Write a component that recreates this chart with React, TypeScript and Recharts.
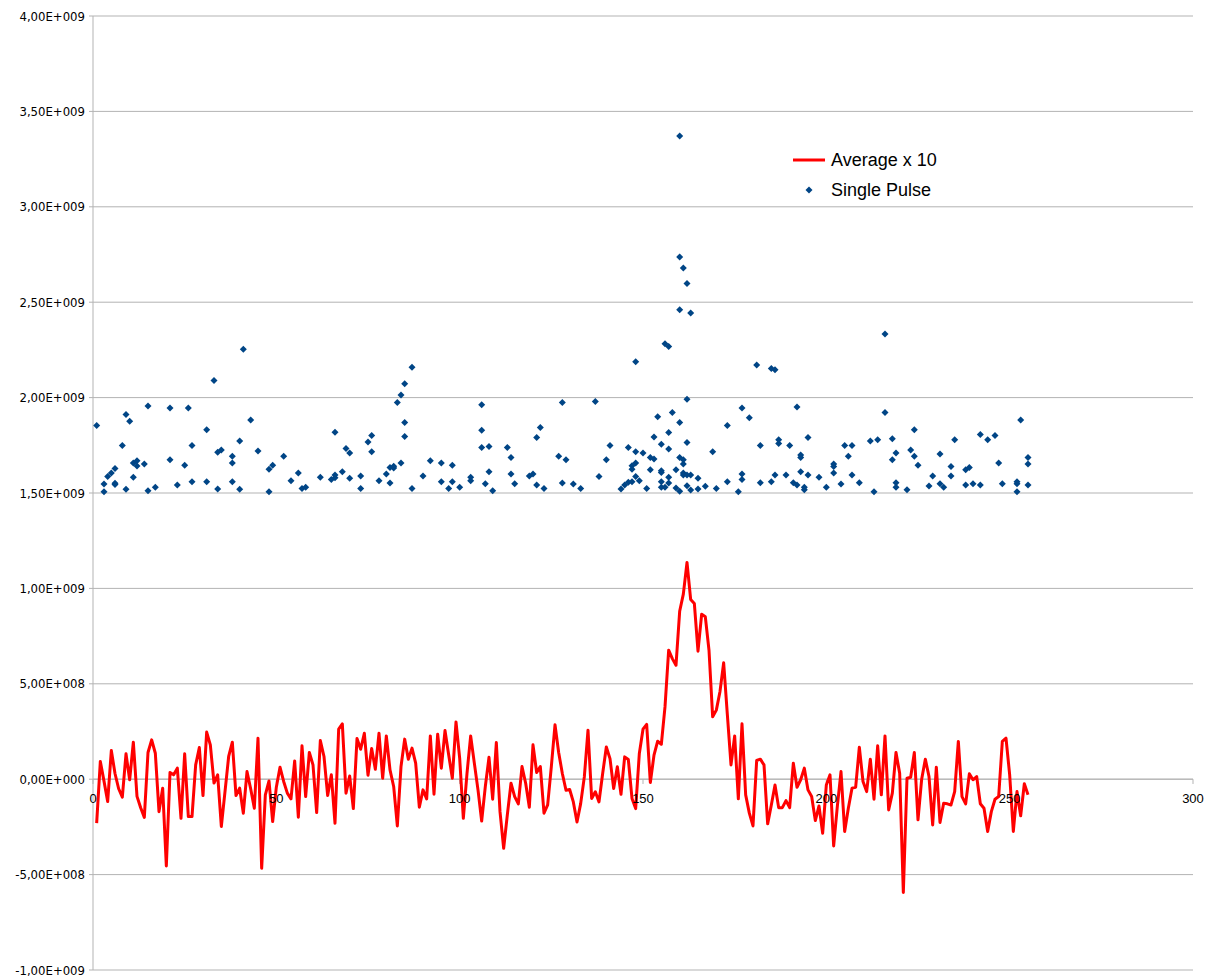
import React from 'react';
import {
  ComposedChart,
  Line,
  Scatter,
  XAxis,
  YAxis,
  CartesianGrid,
  ReferenceLine,
  ReferenceDot,
} from 'recharts';

// ---- Data ----
// "Average x 10" series, x = 1..255, values in units of 1e8
const AVG_UNIT = 1e8;
const avgValues: number[] = [
  -2.3, 0.93, -0.1, -1.17, 1.5, 0.3, -0.5, -0.94, 1.33, -0.03,
  1.94, -0.9, -1.5, -2.0, 1.4, 2.06, 1.36, -1.7, -0.47, -4.55,
  0.35, 0.23, 0.58, -2.05, 1.33, -1.96, -1.96, 0.75, 1.66, -0.86,
  2.47, 1.8, -0.2, 0.23, -2.48, -0.65, 1.19, 1.94, -0.86, -0.47,
  -1.78, 0.4, -0.5, -1.52, 2.15, -4.67, -0.82, -0.09, -2.22, -0.42,
  0.63, -0.12, -0.73, -1.03, 0.96, -1.99, 1.75, -0.91, 1.4, 0.75,
  -1.75, 2.03, 1.19, -0.86, 0.23, -2.31, 2.62, 2.9, -0.73, 0.17,
  -1.54, 2.13, 1.57, 2.41, 0.21, 1.61, 0.52, 2.41, 0.05, 2.27,
  0.49, -0.38, -2.45, 0.66, 2.1, 1.05, 1.63, 0.84, -1.47, -0.56,
  -1.03, 2.27, -0.79, 2.36, 0.58, 2.55, 1.28, 0.05, 3.0, 1.1,
  -2.05, 0.31, 2.27, 0.84, -0.56, -2.19, -0.38, 1.15, -1.05, 1.92,
  -1.7, -3.62, -1.87, -0.21, -0.91, -1.29, 0.66, -0.21, -1.47, 1.8,
  0.35, 0.66, -1.78, -1.35, 0.66, 2.85, 1.4, 0.3, -0.58, -0.54,
  -1.19, -2.24, -1.28, 0.12, 2.57, -1.01, -0.66, -1.19, 0.3, 1.69,
  1.08, -0.49, 0.65, -0.79, 1.17, 1.03, -1.01, -1.54, 1.35, 2.62,
  2.87, -0.17, 1.26, 1.99, 1.83, 3.79, 6.76, 6.32, 5.97, 8.8,
  9.7, 11.36, 9.42, 9.21, 6.71, 8.65, 8.51, 6.76, 3.27, 3.62,
  4.6, 6.1, 3.4, 0.75, 2.27, -1.03, 2.9, -0.82, -1.78, -2.45,
  0.98, 1.05, 0.75, -2.34, -1.35, -0.3, -1.49, -1.49, -1.12, -1.49,
  0.84, -0.42, -0.03, 0.58, -0.56, -0.91, -2.17, -1.4, -2.83, -0.3,
  0.23, -3.5, -1.43, 0.4, -2.74, -1.52, -0.47, -0.42, 1.68, -0.12,
  -0.65, 1.05, -1.05, 1.75, -0.82, 2.27, -1.61, -0.73, 1.4, 0.31,
  -5.94, 0.05, 0.1, 1.4, -2.13, 0, 1.05, 0.14, -2.4, 0.63,
  -2.27, -1.26, -1.29, -1.35, -0.65, 1.98, -0.91, -1.29, 0.28, -0.03,
  0.14, -1.29, -1.52, -2.74, -1.7, -1.05, -0.91, 1.98, 2.15, 0.23,
  -2.74, -0.65, -1.92, -0.24, -0.82,
];

// "Single Pulse" scatter, x positions and values in units of 1e9
const SP_UNIT = 1e9;
const spX: number[] = [
  1, 3, 3, 4, 5, 6, 6, 6, 8, 9, 9, 10, 11, 11, 12, 12, 14, 15, 15, 17,
  21, 21, 23, 25, 26, 27, 27, 31, 31, 33, 34, 34, 35, 38, 38, 38, 40, 40, 41, 43,
  45, 48, 48, 49, 52, 54, 56, 57, 58, 62, 65, 66, 66, 66, 68, 69, 70, 70, 73, 73,
  75, 76, 76, 78, 80, 81, 81, 82, 82, 83, 84, 84, 85, 85, 85, 87, 87, 90, 92, 95,
  95, 97, 98, 98, 100, 103, 103, 106, 106, 106, 107, 108, 108, 109, 113, 114, 114, 115, 119, 120,
  121, 121, 122, 123, 127, 128, 128, 129, 131, 133, 137, 138, 140, 141, 144, 145, 146, 146, 147, 147,
  147, 148, 148, 148, 148, 149, 150, 151, 152, 152, 153, 153, 154, 155, 155, 155, 155, 155, 156, 156,
  157, 157, 157, 157, 157, 158, 159, 159, 160, 160, 160, 160, 160, 160, 161, 161, 161, 161, 161, 162,
  162, 162, 162, 162, 163, 163, 163, 165, 165, 167, 169, 170, 173, 173, 176, 177, 177, 177, 179, 181,
  182, 182, 185, 185, 186, 186, 187, 187, 189, 190, 191, 192, 192, 193, 193, 193, 194, 194, 195, 195,
  198, 200, 202, 202, 202, 204, 205, 206, 207, 207, 209, 212, 213, 214, 216, 216, 218, 218, 219, 219,
  219, 222, 223, 224, 224, 225, 228, 229, 231, 231, 232, 234, 234, 235, 238, 238, 239, 240, 242, 242,
  244, 246, 247, 248, 252, 252, 252, 253, 255, 255, 255,
];
const spY: number[] = [
  1.854, 1.547, 1.507, 1.587, 1.605, 1.629, 1.551, 1.545, 1.749, 1.911, 1.519, 1.876, 1.657, 1.582, 1.669, 1.641, 1.652, 1.956, 1.512, 1.53,
  1.946, 1.674, 1.542, 1.646, 1.946, 1.749, 1.559, 1.831, 1.559, 2.09, 1.713, 1.521, 1.726, 1.692, 1.657, 1.559, 1.772, 1.519, 2.253, 1.883,
  1.72, 1.625, 1.507, 1.646, 1.692, 1.564, 1.605, 1.524, 1.53, 1.582, 1.571, 1.594, 1.58, 1.819, 1.611, 1.733, 1.709, 1.577, 1.589, 1.524,
  1.767, 1.801, 1.716, 1.564, 1.599, 1.634, 1.552, 1.631, 1.64, 1.974, 2.014, 1.657, 2.073, 1.869, 1.796, 2.159, 1.524, 1.589, 1.669, 1.657,
  1.559, 1.524, 1.646, 1.559, 1.53, 1.582, 1.564, 1.962, 1.829, 1.739, 1.549, 1.744, 1.611, 1.512, 1.739, 1.686, 1.599, 1.549, 1.589, 1.599,
  1.791, 1.542, 1.843, 1.524, 1.692, 1.974, 1.552, 1.674, 1.547, 1.524, 1.979, 1.587, 1.674, 1.749, 1.521, 1.542, 1.739, 1.556, 1.643, 1.625,
  1.559, 2.188, 1.716, 1.657, 1.587, 1.564, 1.709, 1.524, 1.686, 1.622, 1.794, 1.678, 1.899, 1.756, 1.617, 1.608, 1.559, 1.53, 2.282, 1.53,
  2.268, 1.817, 1.73, 1.552, 1.582, 1.922, 1.622, 1.526, 3.371, 2.737, 2.46, 1.869, 1.686, 1.509, 2.679, 1.674, 1.652, 1.605, 1.594, 2.598,
  1.991, 1.765, 1.594, 1.538, 2.443, 1.594, 1.516, 1.577, 1.521, 1.535, 1.716, 1.524, 1.854, 1.559, 1.507, 1.946, 1.599, 1.571, 1.894, 2.171,
  1.749, 1.554, 2.153, 1.559, 2.146, 1.594, 1.779, 1.76, 1.594, 1.749, 1.554, 1.951, 1.542, 1.699, 1.686, 1.611, 1.53, 1.517, 1.791, 1.594,
  1.582, 1.53, 1.652, 1.639, 1.605, 1.547, 1.749, 1.692, 1.749, 1.594, 1.554, 1.772, 1.507, 1.779, 2.333, 1.922, 1.784, 1.674, 1.709, 1.554,
  1.53, 1.517, 1.726, 1.831, 1.692, 1.646, 1.537, 1.589, 1.704, 1.549, 1.53, 1.639, 1.589, 1.779, 1.622, 1.542, 1.634, 1.549, 1.807, 1.542,
  1.779, 1.801, 1.657, 1.549, 1.559, 1.549, 1.507, 1.883, 1.686, 1.652, 1.542,
];

const xTicks: number[] = [0, 50, 100, 150, 200, 250, 300];
const yTicks: number[] = [-1e9, -5e8, 0, 5e8, 1e9, 1.5e9, 2e9, 2.5e9, 3e9, 3.5e9, 4e9];

const SERIES_AVG = 'Average x 10';
const SERIES_SP = 'Single Pulse';

// ---- Derived tables ----
const lineData = avgValues.map((v, i) => ({ x: i + 1, avg: v * AVG_UNIT }));
const scatterData = spX.map((x, i) => ({ x, y: spY[i] * SP_UNIT }));

// ---- Styles ----
const FONT = "'Liberation Sans', Arial, sans-serif";
const NARROW = "'Liberation Sans Narrow', 'DejaVu Sans Condensed', 'Liberation Sans', sans-serif";
const RED = '#ff0000';
const BLUE = '#004586';
const GRID = '#b3b3b3';

function sci(v: number): string {
  if (v === 0) return '0,00E+000';
  const e = Math.floor(Math.log10(Math.abs(v)) + 1e-9);
  const m = v / Math.pow(10, e);
  const mant = m.toFixed(2).replace('.', ',');
  const exp = (e >= 0 ? '+' : '-') + String(Math.abs(e)).padStart(3, '0');
  return mant + 'E' + exp;
}

const Diamond = (props: any) => {
  const { cx, cy } = props;
  if (cx == null || cy == null) return null;
  const r = 3.5;
  return (
    <polygon
      points={`${cx},${cy - r} ${cx + r},${cy} ${cx},${cy + r} ${cx - r},${cy}`}
      fill={BLUE}
    />
  );
};

const LegendBox = () => (
  <div
    style={{
      position: 'absolute',
      left: 793,
      top: 145,
      fontFamily: FONT,
      fontSize: 18,
      color: '#000',
      lineHeight: '30px',
    }}
  >
    <div style={{ display: 'flex', alignItems: 'center', height: 30 }}>
      <svg width={38} height={30}>
        <line x1={0} y1={15} x2={32} y2={15} stroke={RED} strokeWidth={3} />
      </svg>
      <span>{SERIES_AVG}</span>
    </div>
    <div style={{ display: 'flex', alignItems: 'center', height: 30 }}>
      <svg width={38} height={30}>
        <polygon points="16,11.5 19.5,15 16,18.5 12.5,15" fill={BLUE} />
      </svg>
      <span>{SERIES_SP}</span>
    </div>
  </div>
);

export default function App() {
  return (
    <div style={{ position: 'absolute', left: 0, top: 0, width: 1210, height: 978, background: '#fff' }}>
      <ComposedChart
        width={1210}
        height={978}
        data={lineData}
        margin={{ top: 16, right: 17, bottom: 8, left: 0 }}
      >
        <CartesianGrid vertical={false} stroke={GRID} strokeWidth={1} />
        <XAxis
          type="number"
          dataKey="x"
          domain={[0, 300]}
          ticks={xTicks}
          hide
        />
        <YAxis
          type="number"
          domain={[-1e9, 4e9]}
          ticks={yTicks}
          interval={0}
          width={93}
          tickFormatter={sci}
          axisLine={{ stroke: GRID }}
          tickLine={{ stroke: GRID }}
          tickSize={4}
          tickMargin={4}
          tick={{ fill: '#000', fontSize: 13, fontFamily: NARROW }}
          allowDataOverflow
        />
        <ReferenceLine y={0} stroke={GRID} strokeWidth={1} />
        {xTicks.map((t) => (
          <ReferenceLine
            key={'tk' + t}
            segment={[{ x: t, y: 0 }, { x: t, y: -2.5e7 }]}
            stroke={GRID}
            strokeWidth={1}
          />
        ))}
        {xTicks.map((t) => (
          <ReferenceDot
            key={'lb' + t}
            x={t}
            y={0}
            r={0}
            fill="none"
            stroke="none"
            label={{
              value: String(t),
              position: 'bottom',
              offset: 15,
              fill: '#000',
              fontSize: 13,
              fontFamily: FONT,
            }}
          />
        ))}
        <Scatter
          name={SERIES_SP}
          data={scatterData}
          dataKey="y"
          shape={Diamond}
          isAnimationActive={false}
        />
        <Line
          name={SERIES_AVG}
          type="linear"
          dataKey="avg"
          stroke={RED}
          strokeWidth={3}
          dot={false}
          activeDot={false}
          isAnimationActive={false}
          strokeLinejoin="round"
        />
      </ComposedChart>
      <LegendBox />
    </div>
  );
}
